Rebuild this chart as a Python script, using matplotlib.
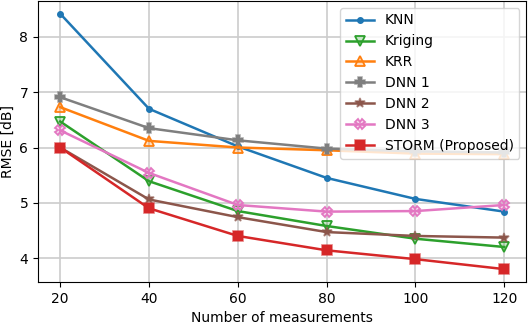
import matplotlib
matplotlib.use("Agg")
import matplotlib.pyplot as plt
from matplotlib.colors import to_rgba

x = [20, 40, 60, 80, 100, 120]
knn = [8.42, 6.70, 6.02, 5.45, 5.07, 4.84]
kriging = [6.47, 5.39, 4.85, 4.58, 4.35, 4.20]
krr = [6.73, 6.12, 6.00, 5.95, 5.89, 5.88]
dnn1 = [6.91, 6.35, 6.13, 5.98, 5.93, 5.91]
dnn2 = [6.00, 5.06, 4.74, 4.47, 4.40, 4.37]
dnn3 = [6.31, 5.54, 4.96, 4.84, 4.85, 4.96]
storm = [6.00, 4.90, 4.40, 4.14, 3.98, 3.80]

series = [
    ("KNN", knn, "tab:blue", "o", 4),
    ("Kriging", kriging, "tab:green", "v", 6.5),
    ("KRR", krr, "tab:orange", "^", 6.5),
    ("DNN 1", dnn1, "tab:gray", "P", 6.5),
    ("DNN 2", dnn2, "tab:brown", "*", 7),
    ("DNN 3", dnn3, "tab:pink", "X", 6.5),
    ("STORM (Proposed)", storm, "tab:red", "s", 6.5),
]

fig, ax = plt.subplots(figsize=(5.28, 3.24), dpi=100)
for name, y, c, m, ms in series:
    if m == "o":
        ax.plot(x, y, color=c, marker=m, markersize=ms, linewidth=1.8, label=name)
    elif m in ("s", "*", "P"):
        ax.plot(x, y, color=c, marker=m, markersize=ms, linewidth=1.8,
                markerfacecolor=c, markeredgecolor=to_rgba(c, 0.6), markeredgewidth=1.2,
                label=name)
    else:
        ax.plot(x, y, color=c, marker=m, markersize=ms, linewidth=1.8,
                markerfacecolor=to_rgba(c, 0.25), markeredgecolor=c, markeredgewidth=1.3,
                label=name)

ax.grid(True, color="#cccccc", linewidth=1.2)
ax.set_axisbelow(True)
ax.set_xticks(x)
ax.set_xlabel("Number of measurements")
ax.set_ylabel("RMSE [dB]", labelpad=3)
ax.legend(loc="upper right")
fig.subplots_adjust(left=0.072, right=0.997, top=0.997, bottom=0.13)
fig.savefig("out.png", dpi=100)
